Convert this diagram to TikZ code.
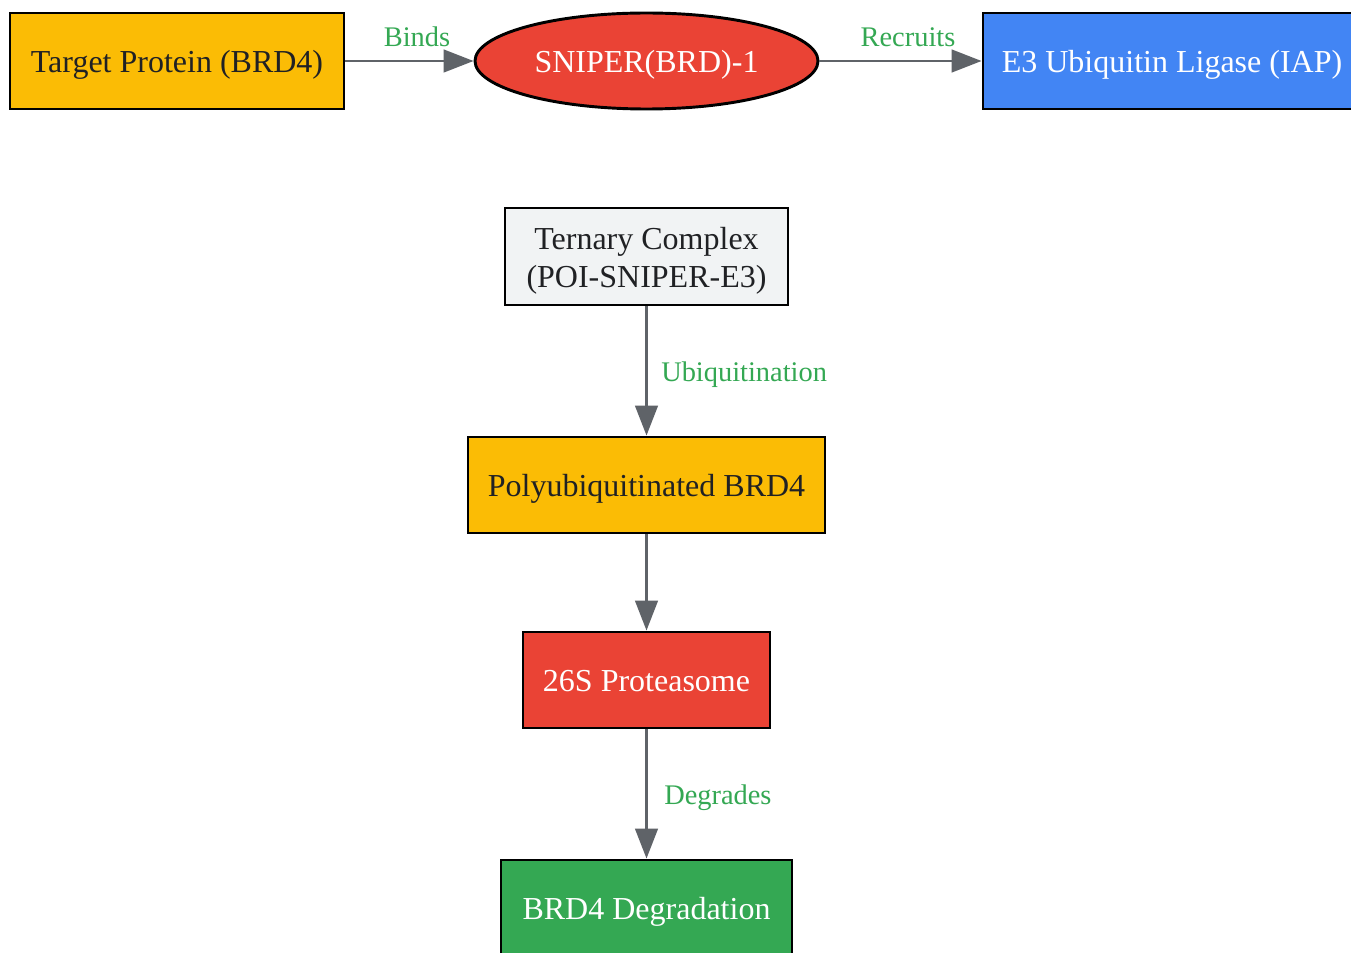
\documentclass[tikz,border=0pt]{standalone}
\usepackage{fontspec}
\setmainfont{Liberation Serif}
\usetikzlibrary{arrows.meta,shapes.geometric}
\definecolor{cyellow}{HTML}{FBBC05}
\definecolor{cred}{HTML}{EA4335}
\definecolor{cblue}{HTML}{4285F4}
\definecolor{cgreen}{HTML}{34A853}
\definecolor{cgrey}{HTML}{F1F3F4}
\definecolor{cedge}{HTML}{5F6368}
\definecolor{ctext}{HTML}{202124}
\begin{document}
\begin{tikzpicture}[x=0.75pt,y=-0.75pt,
  box/.style={draw=black,line width=2.2pt,inner sep=0pt,align=center,
    text height=17.6pt,text depth=0pt,
    font=\fontsize{24pt}{28.5pt}\selectfont},
  oval/.style={box,ellipse},
  conn/.style={draw=cedge,line width=1.9pt,-{Triangle[length=22.5pt,width=17pt]}},
  elabel/.style={text=cgreen,font=\fontsize{21.3pt}{25pt}\selectfont,inner sep=0pt}]
\clip (0,0) rectangle (1351,952);
\fill[white] (0,0) rectangle (1351,952);
\node[box,fill=cyellow,text=ctext,minimum width=334*0.75pt,minimum height=96*0.75pt] (tp) at (177,61) {Target Protein (BRD4)};
\node[oval,fill=cred,text=white,minimum width=343*0.75pt,minimum height=96*0.75pt] (sn) at (646.5,61) {SNIPER(BRD)-1};
\node[box,fill=cblue,text=white,minimum width=378*0.75pt,minimum height=96*0.75pt] (e3) at (1172,61) {E3 Ubiquitin Ligase (IAP)};
\node[box,fill=cgrey,text=ctext,text height=46.2pt,minimum width=283*0.75pt,minimum height=97*0.75pt] (tc) at (646.5,256.5) {Ternary Complex\\(POI-SNIPER-E3)};
\node[box,fill=cyellow,text=ctext,minimum width=357*0.75pt,minimum height=96*0.75pt] (pb) at (646.5,485) {Polyubiquitinated BRD4};
\node[box,fill=cred,text=white,minimum width=247*0.75pt,minimum height=96*0.75pt] (ps) at (646.5,680) {26S Proteasome};
\node[box,fill=cgreen,text=white,minimum width=291*0.75pt,minimum height=96*0.75pt] (bd) at (646.5,908) {BRD4 Degradation};
\draw[conn] (tp) -- (sn);
\draw[conn] (sn) -- (e3);
\draw[conn] (tc) -- (pb);
\draw[conn] (pb) -- (ps);
\draw[conn] (ps) -- (bd);
\node[elabel] (l1) at (417,37) {Binds};
\node[elabel] (l2) at (908,37) {Recruits};
\node[elabel,anchor=west] (l3) at (661,375) {Ubiquitination};
\node[elabel,anchor=west] (l4) at (664,798) {Degrades};
\end{tikzpicture}
\end{document}
